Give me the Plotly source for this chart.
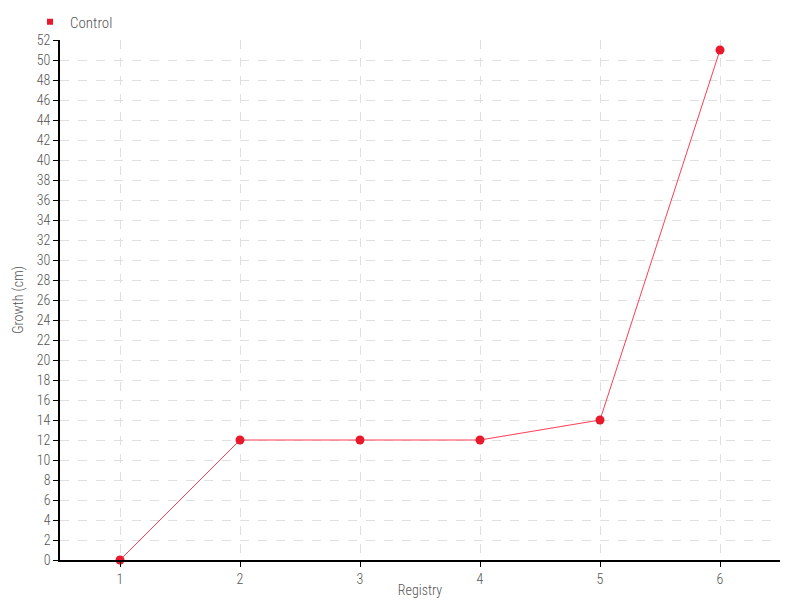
import plotly.graph_objects as go

registry = [1, 2, 3, 4, 5, 6]
growth = [0, 12, 12, 12, 14, 51]
series_name = "Control"
x_title = "Registry"
y_title = "Growth (cm)"
y_ticks = list(range(0, 53, 2))

FONT = "Roboto Condensed, sans-serif"
TXT = "#555555"
FS = 14
RED = "#e8192c"

fig = go.Figure()
fig.add_trace(go.Scatter(
    x=registry, y=growth, mode="lines+markers", name=series_name,
    line=dict(color="#ff3d55", width=1),
    marker=dict(color=RED, size=9, symbol="circle"),
    cliponaxis=False, showlegend=False,
))
fig.add_trace(go.Scatter(
    x=[None], y=[None], mode="markers", name=series_name,
    marker=dict(color=RED, size=6, symbol="square"),
    showlegend=True,
))
fig.update_layout(
    width=800, height=600,
    margin=dict(l=60, r=20, t=40, b=40),
    paper_bgcolor="white", plot_bgcolor="white",
    font=dict(family=FONT, size=FS, color=TXT, weight=300),
    showlegend=True,
    legend=dict(xref="container", yref="container", x=30 / 800, y=1 - 22 / 600,
                xanchor="left", yanchor="middle", orientation="h",
                font=dict(size=FS + 1, color=TXT, weight=300), itemsizing="trace",
                bgcolor="rgba(0,0,0,0)", itemwidth=30, tracegroupgap=0),
    xaxis=dict(range=[0.5, 6.5], tickvals=registry, ticktext=[str(v) for v in registry],
               showline=True, linecolor="black", linewidth=1.5,
               ticks="outside", ticklen=5, tickcolor="black",
               showgrid=True, gridcolor="#e0e0e0", griddash="dash", gridwidth=1,
               zeroline=False, automargin=False,
               title=dict(text=x_title, standoff=0, font=dict(size=FS, color=TXT, weight=300)),
               tickfont=dict(size=FS, color=TXT, weight=300)),
    yaxis=dict(range=[0, 52], tickvals=y_ticks,
               showline=True, linecolor="black", linewidth=1.5,
               ticks="outside", ticklen=5, tickcolor="black",
               showgrid=True, gridcolor="#e0e0e0", griddash="dash", gridwidth=1,
               zeroline=False, automargin=False,
               title=dict(text=y_title, standoff=10, font=dict(size=FS, color=TXT, weight=300)),
               tickfont=dict(size=FS, color=TXT, weight=300)),
)
fig.write_html("out.html", post_script="document.body.style.margin='0';",
               config={"displayModeBar": False})
